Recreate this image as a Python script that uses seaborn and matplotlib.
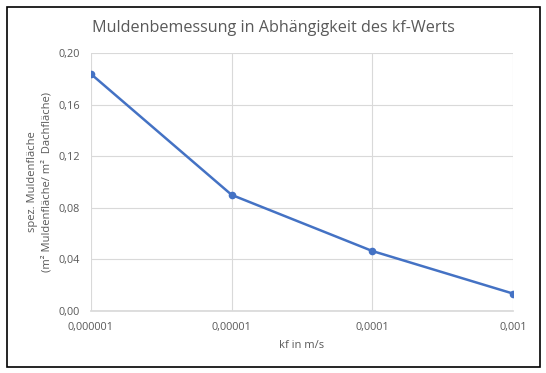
import matplotlib
matplotlib.use("Agg")
import matplotlib.pyplot as plt
import matplotlib.ticker as mticker
import seaborn as sns
import pandas as pd
from matplotlib.patches import Rectangle

kf_values = [0.000001, 0.00001, 0.0001, 0.001]
flaeche = [0.1837, 0.0900, 0.0465, 0.0135]
x_tick_labels = ["0,000001", "0,00001", "0,0001", "0,001"]
y_ticks = [0.00, 0.04, 0.08, 0.12, 0.16, 0.20]

sns.set_theme(style="white")
plt.rcParams['font.family'] = ['Open Sans', 'DejaVu Sans']

df = pd.DataFrame({"kf": kf_values, "A": flaeche})

fig = plt.figure(figsize=(5.46, 3.73), dpi=100)
fig.patch.set_facecolor("white")
ax = fig.add_axes([91/546, 1-311/373, (513-91)/546, (311-53)/373])

sns.lineplot(data=df, x="kf", y="A", ax=ax, color="#4472C4", linewidth=1.8,
             marker="o", markersize=5.5, markeredgewidth=0, markeredgecolor="#4472C4")
ax.set_xscale("log")
ax.set_xlim(kf_values[0], kf_values[-1])
ax.set_ylim(0, 0.2)
ax.set_xticks(kf_values)
ax.set_xticklabels(x_tick_labels)
ax.xaxis.set_minor_locator(mticker.NullLocator())
ax.set_yticks(y_ticks)
ax.set_yticklabels([f"{v:.2f}".replace(".", ",") for v in y_ticks])
ax.grid(True, color="#d9d9d9", linewidth=0.8)
ax.set_axisbelow(True)
for s in ["top", "right", "left"]:
    ax.spines[s].set_visible(False)
ax.spines["bottom"].set_color("#d9d9d9")
ax.tick_params(axis="y", length=0, labelsize=7.8, colors="#595959", pad=8)
ax.tick_params(axis="x", length=0, labelsize=7.8, colors="#595959", pad=8)

ax.set_xlabel("kf in m/s", fontsize=8, color="#595959", labelpad=5)
ax.set_ylabel("spez. Muldenfläche\n(m² Muldenfläche/ m²  Dachfläche)", fontsize=8,
              color="#595959", labelpad=4, linespacing=1.45)
fig.suptitle("Muldenbemessung in Abhängigkeit des kf-Werts", fontsize=11.6,
             color="#595959", x=0.5, y=1-28/373, va="center")

fig.patches.append(Rectangle((7/546, 1-367/373), (540-7)/546, (367-7)/373,
                             transform=fig.transFigure, fill=False,
                             edgecolor="black", linewidth=1.2))

fig.savefig("out.png", dpi=100)
